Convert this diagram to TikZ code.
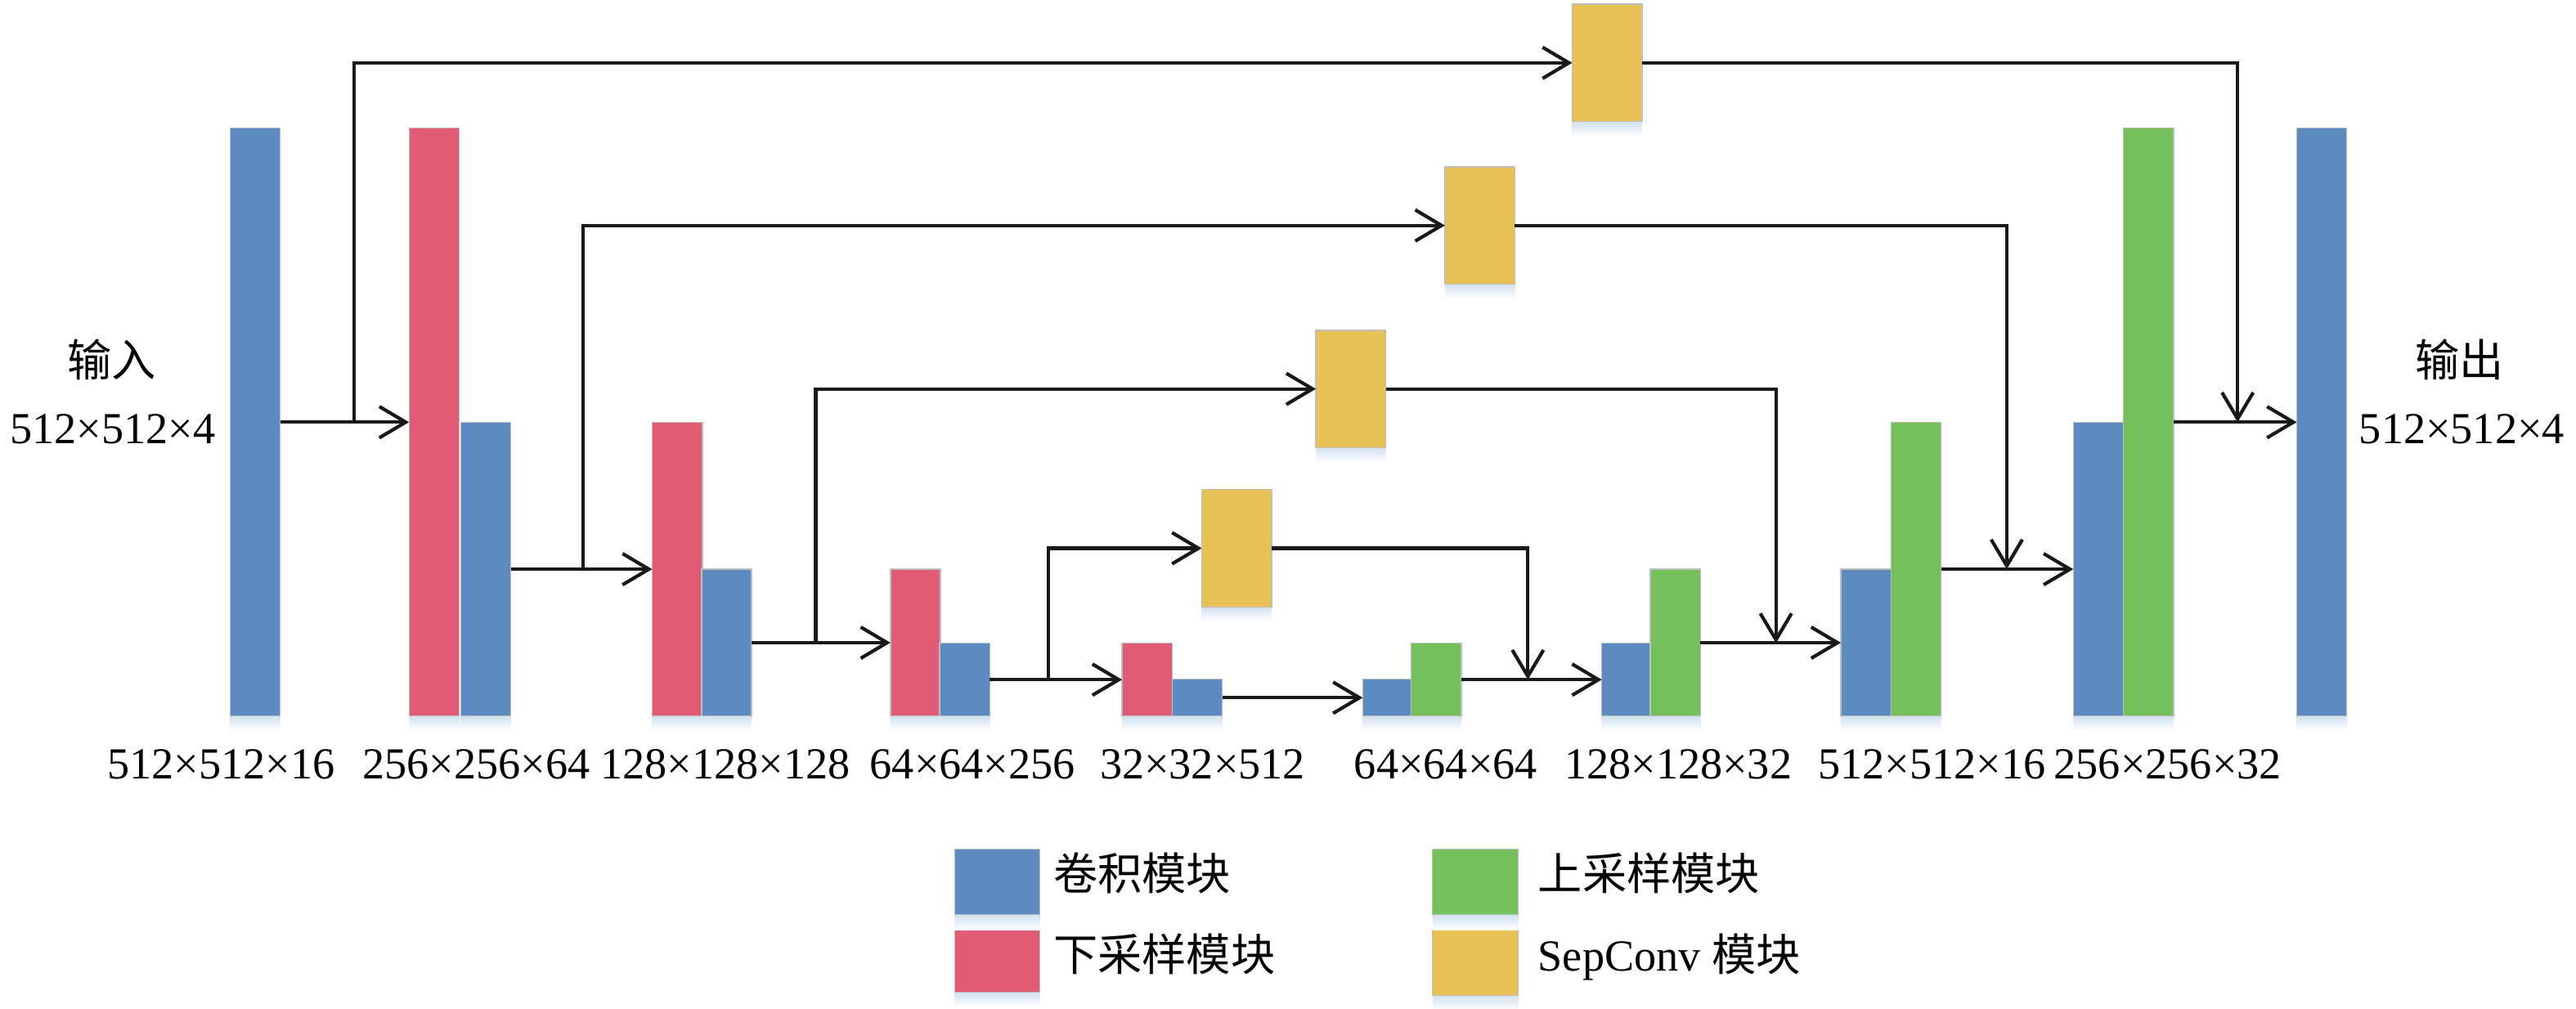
\documentclass[tikz,border=0pt]{standalone}
\usepackage{fontspec}
\setmainfont{Liberation Serif}
\newfontfamily\cjk{Noto Sans CJK SC}
\usetikzlibrary{arrows.meta}
\definecolor{cblue}{RGB}{91,139,193}
\definecolor{cred}{RGB}{226,91,117}
\definecolor{cgreen}{RGB}{116,192,90}
\definecolor{cyellow}{RGB}{231,193,83}
\definecolor{cborder}{RGB}{190,190,190}
\definecolor{cshadow}{RGB}{212,226,240}
\begin{document}
\begin{tikzpicture}[x=1pt,y=-1pt,
  bar/.style={draw=cborder, line width=0.7pt, inner sep=0pt, outer sep=0pt, anchor=south west, minimum width=30.5pt},
  sep/.style={draw=cborder, line width=0.7pt, inner sep=0pt, outer sep=0pt, fill=cyellow, minimum width=42.5pt, minimum height=71.5pt, anchor=north west},
  leg/.style={draw=cborder, line width=0.5pt, inner sep=0pt, outer sep=0pt, minimum width=52pt, minimum height=40pt, anchor=north west},
  lab/.style={font=\fontsize{27}{30}\selectfont, inner sep=0pt, anchor=base},
  cjklab/.style={font=\fontsize{27}{30}\cjk, inner sep=0pt, anchor=base},
  legtxt/.style={font=\fontsize{27}{30}\selectfont, inner sep=0pt, anchor=base west},
  arr/.style={-{Straight Barb[length=16pt,width=19pt]}, line width=2.1pt, color=black!90},
  ln/.style={line width=2.1pt}
]
\useasboundingbox (0,0) rectangle (1568,614.25);

% ---- bars ----
\node[bar, fill=cblue, minimum height=358pt] (in) at (140,436) {};
\node[bar, fill=cred,  minimum height=358pt] (d1r) at (249,436) {};
\node[bar, fill=cblue, minimum height=179pt] (d1b) at (280.5,436) {};
\node[bar, fill=cred,  minimum height=179pt] (d2r) at (397,436) {};
\node[bar, fill=cblue, minimum height=89.5pt] (d2b) at (427,436) {};
\node[bar, fill=cred,  minimum height=89.5pt] (d3r) at (542,436) {};
\node[bar, fill=cblue, minimum height=44.5pt] (d3b) at (572,436) {};
\node[bar, fill=cred,  minimum height=44.5pt] (d4r) at (683,436) {};
\node[bar, fill=cblue, minimum height=22.5pt] (d4b) at (713.5,436) {};
\node[bar, fill=cblue, minimum height=22.5pt] (u1b) at (829.5,436) {};
\node[bar, fill=cgreen,minimum height=44.5pt] (u1g) at (859,436) {};
\node[bar, fill=cblue, minimum height=44.5pt] (u2b) at (975,436) {};
\node[bar, fill=cgreen,minimum height=89.5pt] (u2g) at (1004.5,436) {};
\node[bar, fill=cblue, minimum height=89.5pt] (u3b) at (1120.5,436) {};
\node[bar, fill=cgreen,minimum height=179pt] (u3g) at (1151,436) {};
\node[bar, fill=cblue, minimum height=179pt] (u4b) at (1262,436) {};
\node[bar, fill=cgreen,minimum height=358pt] (u4g) at (1292.5,436) {};
\node[bar, fill=cblue, minimum height=358pt] (out) at (1398,436) {};

% ---- SepConv boxes ----
\node[sep] (y1) at (957,2.5) {};
\node[sep] (y2) at (879.5,101.5) {};
\node[sep] (y3) at (801,201) {};
\node[sep] (y4) at (731.5,298) {};

% ---- shadows ----
\foreach \n in {in,d1r,d1b,d2r,d2b,d3r,d3b,d4r,d4b,u1b,u1g,u2b,u2g,u3b,u3g,u4b,u4g,out,y1,y2,y3,y4}
  \shade[top color=cshadow, bottom color=white] ([yshift=-0.4pt]\n.south west) rectangle ([yshift=-9pt]\n.south east);

% ---- branch / merge points ----
\coordinate (b1) at (215.5,257);
\coordinate (b2) at (355,346.5);
\coordinate (b3) at (496.5,391.5);
\coordinate (b4) at (638,413.75);
\coordinate (m1) at (1362,257);
\coordinate (m2) at (1221.5,346.5);
\coordinate (m3) at (1081,391.5);
\coordinate (m4) at (930,413.75);

% ---- main path ----
\draw[arr] (in.east) -- (d1r.west);
\draw[arr] (d1b.east) -- (d2r.west);
\draw[arr] (d2b.east) -- (d3r.west);
\draw[arr] (d3b.east) -- (d4r.west);
\draw[arr] (d4b.east) -- (u1b.west);
\draw[arr] (u1g.east) -- (u2b.west);
\draw[arr] (u2g.east) -- (u3b.west);
\draw[arr] (u3g.east) -- (u4b.west);
\draw[arr] (u4g.east) -- (out.west);

% ---- skip connections ----
\draw[arr] (b1) |- (y1.west);
\draw[arr] (b2) |- (y2.west);
\draw[arr] (b3) |- (y3.west);
\draw[arr] (b4) |- (y4.west);
\draw[arr] (y1.east) -| (m1);
\draw[arr] (y2.east) -| (m2);
\draw[arr] (y3.east) -| (m3);
\draw[arr] (y4.east) -| (m4);

% ---- size labels ----
\node[lab] (t1) at (134.5,474) {512×512×16};
\node[lab] (t2) at (290,474) {256×256×64};
\node[lab] (t3) at (441.5,474) {128×128×128};
\node[lab] (t4) at (592,474) {64×64×256};
\node[lab] (t5) at (732,474) {32×32×512};
\node[lab] (t6) at (880,474) {64×64×64};
\node[lab] (t7) at (1021.5,474) {128×128×32};
\node[lab] (t8) at (1176,474) {512×512×16};
\node[lab] (t9) at (1319.5,474) {256×256×32};

% ---- input / output labels ----
\node[cjklab] (inlab) at (68,229) {输入};
\node[lab] (insz) at (68.5,270) {512×512×4};
\node[cjklab] (outlab) at (1497,229) {输出};
\node[lab] (outsz) at (1498.5,270) {512×512×4};

% ---- legend ----
\node[leg, fill=cblue] (lg1) at (581,517) {};
\node[leg, fill=cred] (lg2) at (581,564) {};
\node[leg, fill=cgreen] (lg3) at (872,517) {};
\node[leg, fill=cyellow] (lg4) at (872,566) {};
\foreach \n in {lg1,lg2,lg3,lg4}
  \shade[top color=cshadow, bottom color=white] ([yshift=-0.3pt]\n.south west) rectangle ([yshift=-9pt]\n.south east);
\node[legtxt, font=\fontsize{27}{30}\cjk] (lt1) at (641,542) {卷积模块};
\node[legtxt, font=\fontsize{27}{30}\cjk] (lt2) at (641,591) {下采样模块};
\node[legtxt, font=\fontsize{27}{30}\cjk] (lt3) at (936,542) {上采样模块};
\node[legtxt] (lt4) at (936,591) {SepConv {\cjk 模块}};
\end{tikzpicture}
\end{document}
